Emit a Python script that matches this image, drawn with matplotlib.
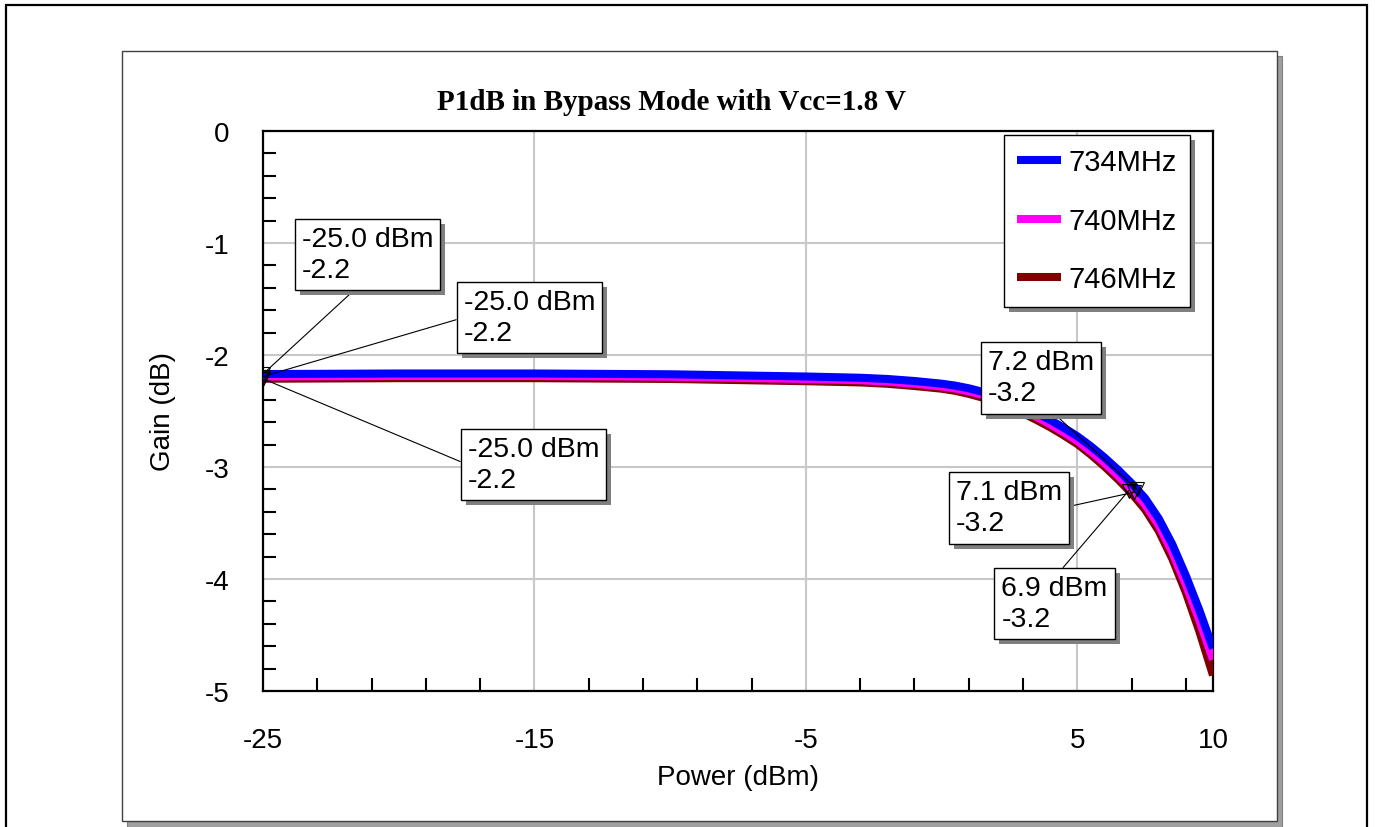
import matplotlib
matplotlib.use('Agg')
import matplotlib.pyplot as plt
import matplotlib.patheffects as pe
from matplotlib.patches import Rectangle
import numpy as np

plt.rcParams['font.family'] = ['Liberation Sans', 'DejaVu Sans']
plt.rcParams['axes.unicode_minus'] = False

# swept input power (dBm) and gain (dB) per frequency
power = [-25, -20, -15, -10, -5, -3, -2, -1, 0, 0.5, 1, 1.5, 2, 2.5, 3, 3.5, 4, 4.5,
         5, 5.5, 6, 6.5, 7, 7.5, 8, 8.5, 9, 9.5, 10]
gain_734 = [-2.170, -2.165, -2.165, -2.172, -2.192, -2.203, -2.214, -2.232, -2.256, -2.273,
            -2.297, -2.328, -2.365, -2.41, -2.46, -2.518, -2.58, -2.65, -2.725, -2.815,
            -2.915, -3.025, -3.145, -3.28, -3.46, -3.69, -3.97, -4.28, -4.62]
gain_740 = [-2.192, -2.187, -2.187, -2.194, -2.214, -2.225, -2.237, -2.256, -2.281, -2.299,
            -2.324, -2.356, -2.395, -2.441, -2.493, -2.553, -2.617, -2.69, -2.767, -2.86,
            -2.963, -3.077, -3.197, -3.335, -3.52, -3.76, -4.05, -4.37, -4.72]
gain_746 = [-2.212, -2.207, -2.207, -2.214, -2.234, -2.245, -2.257, -2.277, -2.301, -2.32,
            -2.347, -2.38, -2.42, -2.467, -2.52, -2.58, -2.645, -2.717, -2.795, -2.89,
            -2.995, -3.11, -3.235, -3.38, -3.57, -3.82, -4.12, -4.47, -4.86]

series_names = ['734MHz', '740MHz', '746MHz']
series_gain = [gain_734, gain_740, gain_746]
series_colors = ['#0000ff', '#ff00ff', '#800000']

# marker positions (dBm) per series
marker_power = [[-25.0, 7.2], [-25.0, 7.1], [-25.0, 6.9]]

W, H = 1375, 828


def fx(px):
    return px / W


def fy(py):
    return 1 - py / H


fig = plt.figure(figsize=(W / 100, H / 100), dpi=100)

# outer frame, panel shadow and panel
fig.patches.append(Rectangle((fx(6), fy(860)), fx(1367) - fx(6), fy(6) - fy(860),
                             transform=fig.transFigure, fill=False, ec='black', lw=1.6, zorder=-5))
fig.patches.append(Rectangle((fx(127), fy(828)), fx(1282) - fx(127), fy(57) - fy(828),
                             transform=fig.transFigure, fc='#a0a0a0', ec='#808080', lw=0.8, zorder=-4))
fig.patches.append(Rectangle((fx(122), fy(822)), fx(1277) - fx(122), fy(52) - fy(822),
                             transform=fig.transFigure, fc='white', ec='#404040', lw=1.0, zorder=-3))

ax = fig.add_axes([fx(263), fy(692), fx(1213) - fx(263), fy(132) - fy(692)])

handles = {}
for name, g, c in reversed(list(zip(series_names, series_gain, series_colors))):
    ln, = ax.plot(power, g, color=c, lw=5.8, solid_capstyle='butt', solid_joinstyle='round',
                  label=name, zorder=3)
    handles[name] = ln

shadow = [pe.SimplePatchShadow(offset=(3.6, -3.6), shadow_rgbFace='#808080', alpha=1.0), pe.Normal()]

ann_pos = [[(-21.15, -1.10), (3.66, -2.205)],
           [(-15.18, -1.665), (2.48, -3.366)],
           [(-15.03, -2.98), (4.16, -4.22)]]
ann_rel = [[(0.46, 0.0), (0.55, 0.0)],
           [(0.0, 0.5), (1.0, 0.5)],
           [(0.0, 0.5), (0.52, 1.0)]]

for i, g in enumerate(series_gain):
    mx = np.array(marker_power[i])
    my = np.interp(mx, power, g)
    ax.plot(mx, my, ls='none', marker='v', ms=10, mfc='none', mec='black', mew=0.8, zorder=5)
    for j in range(len(mx)):
        t = ax.annotate(f'{mx[j]:.1f} dBm\n{my[j]:.1f}', xy=(mx[j], my[j]), xytext=ann_pos[i][j],
                        ha='center', va='center', multialignment='left', fontsize=20.5,
                        linespacing=1.25, zorder=6,
                        bbox=dict(boxstyle='square,pad=0.25', fc='white', ec='black', lw=1.0),
                        arrowprops=dict(arrowstyle='-', lw=0.8, color='black', relpos=ann_rel[i][j],
                                        shrinkA=0, shrinkB=0))
        t.get_bbox_patch().set_path_effects(shadow)

ax.set_xlim(-25, 10)
ax.set_ylim(-5, 0)
ax.set_xticks([-25, -15, -5, 5, 10])
ax.set_yticks([0, -1, -2, -3, -4, -5])
ax.set_xticks([v for v in range(-23, 10, 2) if v not in (-15, -5, 5)], minor=True)
ax.set_yticks([v / 10 for v in range(-48, 0, 2) if v % 10 != 0], minor=True)
ax.tick_params(which='major', length=0, labelsize=20)
ax.tick_params(axis='x', which='major', pad=26)
ax.tick_params(axis='y', which='major', pad=24)
ax.tick_params(which='minor', direction='in', length=9.5, width=1.5)
ax.grid(True, which='major', color='#c8c8c8', lw=1.5)
ax.set_axisbelow(True)
for s in ax.spines.values():
    s.set_linewidth(1.6)

leg = ax.legend([handles[n] for n in series_names], series_names, loc='upper right',
                bbox_to_anchor=((1190 - 263) / 950, (692 - 136) / 560), fontsize=21,
                frameon=True, fancybox=False, edgecolor='black', framealpha=1,
                handlelength=1.5, handletextpad=0.25, labelspacing=1.05, borderpad=0.45,
                borderaxespad=0)
leg.get_frame().set_linewidth(1.0)
leg.get_frame().set_path_effects(shadow)
leg.set_zorder(7)

fig.text(fx(672), fy(103), 'P1dB in Bypass Mode with Vcc=1.8 V', ha='center', va='center',
         fontsize=21, fontweight='bold', family='Liberation Serif')
fig.text(fx(738), fy(778), 'Power (dBm)', ha='center', va='center', fontsize=20)
fig.text(fx(163), fy(412), 'Gain (dB)', ha='center', va='center', fontsize=20, rotation=90)

fig.savefig('out.png', dpi=100)
